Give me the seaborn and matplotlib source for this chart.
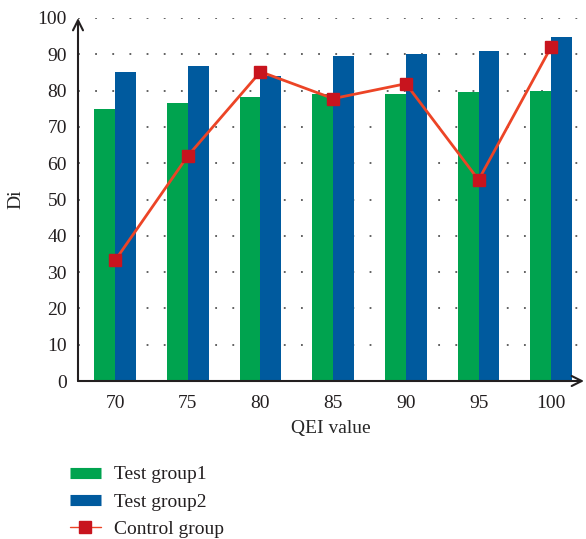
import matplotlib
matplotlib.use("Agg")
import matplotlib.pyplot as plt
from matplotlib.lines import Line2D
import seaborn as sns
import pandas as pd

categories = ["70", "75", "80", "85", "90", "95", "100"]
test_group1 = [75.0, 76.7, 78.1, 79.0, 79.2, 79.7, 80.0]
test_group2 = [85.0, 86.9, 84.1, 89.6, 90.2, 91.0, 94.9]
control_group = [33.2, 62.0, 85.2, 77.8, 81.9, 55.4, 92.1]
y_ticks = [0, 10, 20, 30, 40, 50, 60, 70, 80, 90, 100]

GREEN = "#00A34F"
BLUE = "#005A9E"
RED_LINE = "#EC4426"
RED_MARK = "#C8141E"

sns.set_style("white")
plt.rcParams["font.family"] = ["Liberation Serif", "DejaVu Serif"]
plt.rcParams["text.color"] = "#231F20"

df = pd.DataFrame({
    "QEI": categories * 2,
    "value": test_group1 + test_group2,
    "group": ["Test group1"] * len(categories) + ["Test group2"] * len(categories),
})

fig = plt.figure(figsize=(5.86, 5.39), dpi=100)
ax = fig.add_axes([78 / 586, 1 - 381 / 539, (584 - 78) / 586, (381 - 18) / 539])

sns.barplot(data=df, x="QEI", y="value", hue="group", order=categories,
            palette=[GREEN, BLUE], width=0.575, gap=0, dodge=True,
            saturation=1, ax=ax, legend=False, zorder=3, linewidth=0,
            edgecolor="none")
ax.plot(range(len(categories)), control_group, color=RED_LINE, lw=2,
        marker="s", markersize=8, markerfacecolor=RED_MARK,
        markeredgecolor=RED_MARK, zorder=5)

ax.set_xlim(-0.51, 6.45)
ax.set_ylim(0, 100)
ax.set_yticks(y_ticks)
ax.set_yticklabels([str(t) for t in y_ticks])
for s in ax.spines.values():
    s.set_visible(False)
ax.tick_params(axis="x", labelsize=14, length=0, pad=10, colors="#231F20")
ax.tick_params(axis="y", labelsize=14, length=0, pad=8, colors="#231F20")
ax.set_axisbelow(True)
ax.yaxis.grid(True, linestyle=(0, (1, 8.5)), color="#555555", lw=1.3)
ax.xaxis.grid(False)

ax.set_xlabel("QEI value", fontsize=14, labelpad=6)
ax.set_ylabel("Di", fontsize=14)
ax.yaxis.set_label_coords(-0.105, 0.5)

# axis arrows
ax.annotate("", xy=(0, 1.0), xytext=(0, 0), xycoords="axes fraction",
            arrowprops=dict(arrowstyle="->", lw=1.5, color="#231F20",
                            mutation_scale=18, shrinkA=0, shrinkB=0))
ax.annotate("", xy=(1.0, 0), xytext=(0, 0), xycoords="axes fraction",
            arrowprops=dict(arrowstyle="->", lw=1.5, color="#231F20",
                            mutation_scale=18, shrinkA=0, shrinkB=0))

handles = [
    Line2D([], [], color=GREEN, lw=8, solid_capstyle="butt"),
    Line2D([], [], color=BLUE, lw=8, solid_capstyle="butt"),
    Line2D([], [], color=RED_LINE, lw=1, marker="s", markersize=8,
           markerfacecolor=RED_MARK, markeredgecolor=RED_MARK),
]
fig.legend(handles, ["Test group1", "Test group2", "Control group"],
           loc="upper left", bbox_to_anchor=(62 / 586, 1 - 458 / 539),
           frameon=False, fontsize=14, handlelength=1.6, handletextpad=0.65,
           labelspacing=0.5, borderaxespad=0)

fig.savefig("out.png", dpi=100)
